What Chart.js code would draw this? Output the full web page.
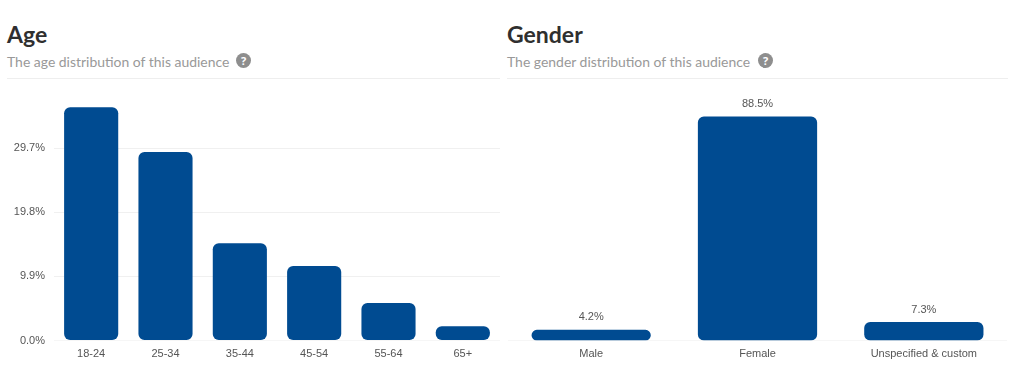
<!DOCTYPE html>
<html>
<head>
<meta charset="utf-8">
<style>
  html, body { margin: 0; padding: 0; background: #fff; width: 1024px; height: 378px; overflow: hidden; }
  .panel-head { position: absolute; top: 0; height: 79px; border-bottom: 1px solid #eeeeee; box-sizing: border-box; }
  .panel-head h2 { position: absolute; left: 0; top: 19px; margin: 0; font: 700 23px/30px Lato, sans-serif; color: #2f2f2f; }
  .panel-head p { position: absolute; left: 0; top: 52px; margin: 0; font: 400 13.95px/20px Lato, sans-serif; color: #999; white-space: nowrap; }
  .help { position: absolute; top: 53px; width: 15px; height: 15px; border-radius: 50%; background: #8e8e8e; color: #fff; font: 700 11px/15px "Open Sans", sans-serif; text-align: center; }
  canvas { position: absolute; }
</style>
</head>
<body>
<div class="panel-head" style="left:7px;width:493px">
  <h2>Age</h2>
  <p>The age distribution of this audience</p>
  <span class="help" style="left:229px">?</span>
</div>
<div class="panel-head" style="left:507px;width:501px">
  <h2>Gender</h2>
  <p>The gender distribution of this audience</p>
  <span class="help" style="left:251px">?</span>
</div>
<canvas id="chart-age" style="left:0;top:90px;width:500px;height:275px"></canvas>
<canvas id="chart-gender" style="left:508px;top:90px;width:499px;height:275px"></canvas>
<script src="https://cdn.jsdelivr.net/npm/chart.js@4"></script>
<script>
const ageLabels = ['18-24', '25-34', '35-44', '45-54', '55-64', '65+'];
const ageValues = [36.0, 29.1, 15.0, 11.5, 5.8, 2.2];
const ageTicks = [0, 9.9, 19.8, 29.7];

const genderLabels = ['Male', 'Female', 'Unspecified & custom'];
const genderValues = [4.2, 88.5, 7.3];

const BAR_COLOR = '#004b91';
const TEXT_COLOR = '#555555';
const TICK_FONT = { family: '"Liberation Sans", Arial, sans-serif', size: 11 };

/* Percent labels above the gender bars */
const valueLabels = {
  id: 'valueLabels',
  afterDatasetsDraw(chart) {
    const ctx = chart.ctx;
    const meta = chart.getDatasetMeta(0);
    ctx.save();
    ctx.font = `${TICK_FONT.size}px ${TICK_FONT.family}`;
    ctx.fillStyle = TEXT_COLOR;
    ctx.textAlign = 'center';
    ctx.textBaseline = 'bottom';
    meta.data.forEach((bar, i) => {
      ctx.fillText(chart.data.datasets[0].data[i].toFixed(1) + '%', bar.x, bar.y - 7);
    });
    ctx.restore();
  },
};

function barOptions(yMax, yAxis, barPct) {
  return {
    responsive: false,
    animation: false,
    layout: { padding: 0 },
    datasets: { bar: { barPercentage: barPct, categoryPercentage: 1 } },
    plugins: { legend: { display: false }, tooltip: { enabled: false } },
    scales: {
      x: {
        grid: { display: false, drawTicks: false },
        border: { display: true, color: '#f6f6f6' },
        ticks: { color: TEXT_COLOR, font: TICK_FONT, padding: 7, maxRotation: 0, autoSkip: false },
        afterFit(axis) { axis.height = 24.5; },
      },
      y: Object.assign({ min: 0, max: yMax }, yAxis),
    },
  };
}

new Chart(document.getElementById('chart-age'), {
  type: 'bar',
  data: {
    labels: ageLabels,
    datasets: [{ data: ageValues, backgroundColor: BAR_COLOR, borderRadius: 6, borderSkipped: false }],
  },
  options: barOptions(38.66, {
    afterBuildTicks(axis) { axis.ticks = ageTicks.map(v => ({ value: v })); },
    afterFit(axis) { axis.width = 54; axis.paddingTop = 0; axis.paddingBottom = 0; },
    grid: { color: '#f0f0f0', drawTicks: false },
    border: { display: false },
    ticks: { color: TEXT_COLOR, font: TICK_FONT, padding: 9, callback: v => v.toFixed(1) + '%' },
  }, 0.728),
});

new Chart(document.getElementById('chart-gender'), {
  type: 'bar',
  data: {
    labels: genderLabels,
    datasets: [{ data: genderValues, backgroundColor: BAR_COLOR, borderRadius: 6, borderSkipped: false }],
  },
  options: barOptions(99, {
    display: false,
  }, 0.717),
  plugins: [valueLabels],
});
</script>
</body>
</html>
